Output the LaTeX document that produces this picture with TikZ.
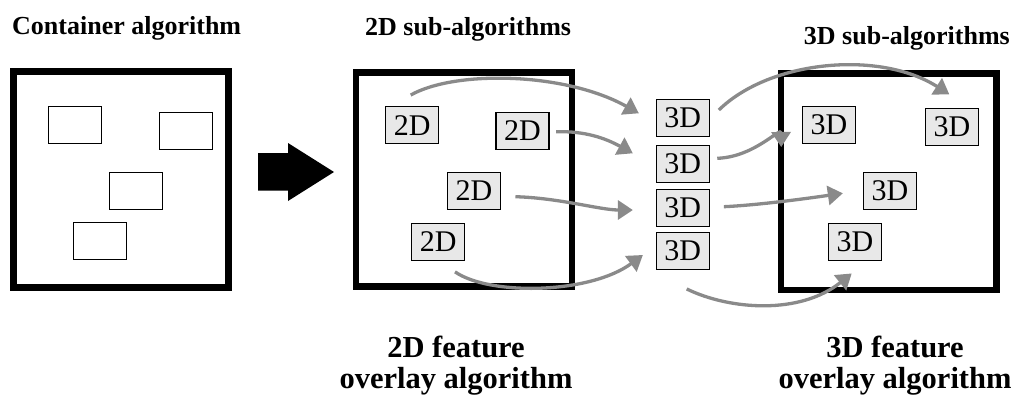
\documentclass[tikz,border=0pt]{standalone}
\usepackage{fontspec}
\setmainfont{Liberation Serif}
\usetikzlibrary{arrows.meta,calc}

\tikzset{
  frame/.style={draw, line width=6.7pt, inner sep=0pt},
  slot/.style={draw, line width=1.3pt, inner sep=0pt, minimum width=53pt, minimum height=37pt},
  algo/.style={draw, line width=1.3pt, fill=black!9, inner sep=0pt,
    minimum width=53pt, minimum height=37pt, font=\fontsize{30}{30}\selectfont},
  title/.style={font=\fontsize{26}{30}\selectfont\bfseries, inner sep=0pt},
  caption/.style={font=\fontsize{30.5}{31}\selectfont\bfseries, inner sep=0pt, anchor=base},
  flow/.style={draw=black!46, line width=3.3pt,
    -{Triangle[length=15pt,width=19pt]}}
}

\begin{document}
\begin{tikzpicture}[x=1pt,y=-1pt]
\useasboundingbox (0,0) rectangle (1016,397);

% titles
\node[title, anchor=base west] (tcont) at (12,34.3) {Container algorithm};
\node[title, anchor=base west] (tsub2) at (365,35.7) {2D sub-algorithms};
\node[title, anchor=base east] (tsub3) at (1010,44) {3D sub-algorithms};

% container algorithm with empty slots
\node[frame, minimum width=215pt, minimum height=216pt] (cont) at (121,179.5) {};
\node[slot] (r1) at (75.2,125) {};
\node[slot] (r2) at (186.3,131) {};
\node[slot] (r3) at (135.8,190.8) {};
\node[slot] (r4) at (100.3,241.3) {};

% block arrow
\fill (258,153) -- (288,153) -- (288,143) -- (334,172) -- (288,201)
      -- (288,190.5) -- (258,190.5) -- cycle;

% 2D feature overlay algorithm
\node[frame, minimum width=216pt, minimum height=214pt] (ov2) at (464,179.6) {};
\node[algo] (a) at (412.3,125.2) {2D};
\node[algo] (b) at (522.5,130.8) {2D};
\node[algo] (c) at (474,191) {2D};
\node[algo] (d) at (438.3,241.7) {2D};

% converted sub-algorithms
\node[algo] (m1) at (682.7,117.8) {3D};
\node[algo] (m2) at (682.7,163.8) {3D};
\node[algo] (m3) at (682.7,207.7) {3D};
\node[algo] (m4) at (682.7,251.2) {3D};

% 3D feature overlay algorithm
\node[frame, minimum width=215.5pt, minimum height=216.7pt] (ov3) at (888.7,181.7) {};
\node[algo] (e) at (829,125) {3D};
\node[algo] (f) at (952,127.2) {3D};
\node[algo] (g) at (890,191) {3D};
\node[algo] (h) at (855,241.7) {3D};

% captions
\node[caption] (cap2a) at (456,357) {2D feature};
\node[caption] (cap2b) at (456,388) {overlay algorithm};
\node[caption] (cap3a) at (895,357) {3D feature};
\node[caption] (cap3b) at (895,388) {overlay algorithm};

% arrow ends
\coordinate (sa) at ($(a.north)+(-1.6,-11)$);
\coordinate (sb) at ($(b.east)+(6.5,0.9)$);
\coordinate (sc) at ($(c.east)+(14.3,5.7)$);
\coordinate (sd) at ($(d.south)+(16.7,11)$);
\coordinate (ta) at ($(m1.west)+(-16.7,-4.5)$);
\coordinate (tb) at ($(m2.west)+(-22.7,-10.5)$);
\coordinate (tc) at ($(m3.west)+(-22.7,2.3)$);
\coordinate (td) at ($(m4.west)+(-12.7,3.8)$);
\coordinate (s1) at ($(m1.east)+(9,-7.8)$);
\coordinate (s2) at ($(m2.east)+(7.4,-5.5)$);
\coordinate (s3) at ($(m3.east)+(14,-1)$);
\coordinate (s4) at ($(m4.south)+(4,18.6)$);
\coordinate (t1) at ($(f.north)+(-2.7,-13.7)$);
\coordinate (t2) at ($(e.west)+(-20.6,22)$);
\coordinate (t3) at ($(g.west)+(-20,2.3)$);
\coordinate (t4) at ($(h.south)+(-3.3,12.6)$);

% 2D sub-algorithms to the converted column
\draw[flow] (sa) .. controls (455,70) and (565,72) .. (ta);
\draw[flow] (sb) .. controls (585,131) and (605,138) .. (tb);
\draw[flow] (sc) .. controls (560,198) and (600,210) .. (tc);
\draw[flow] (sd) .. controls (490,296) and (590,294) .. (td);

% converted column into the 3D overlay
\draw[flow] (s1) .. controls (770,60) and (880,50) .. (t1);
\draw[flow] (s2) .. controls (755,157) and (781,126) .. (t2);
\draw[flow] (s3) .. controls (760,205) and (810,198) .. (t3);
\draw[flow] (s4) .. controls (730,310) and (800,315) .. (t4);
\end{tikzpicture}
\end{document}
